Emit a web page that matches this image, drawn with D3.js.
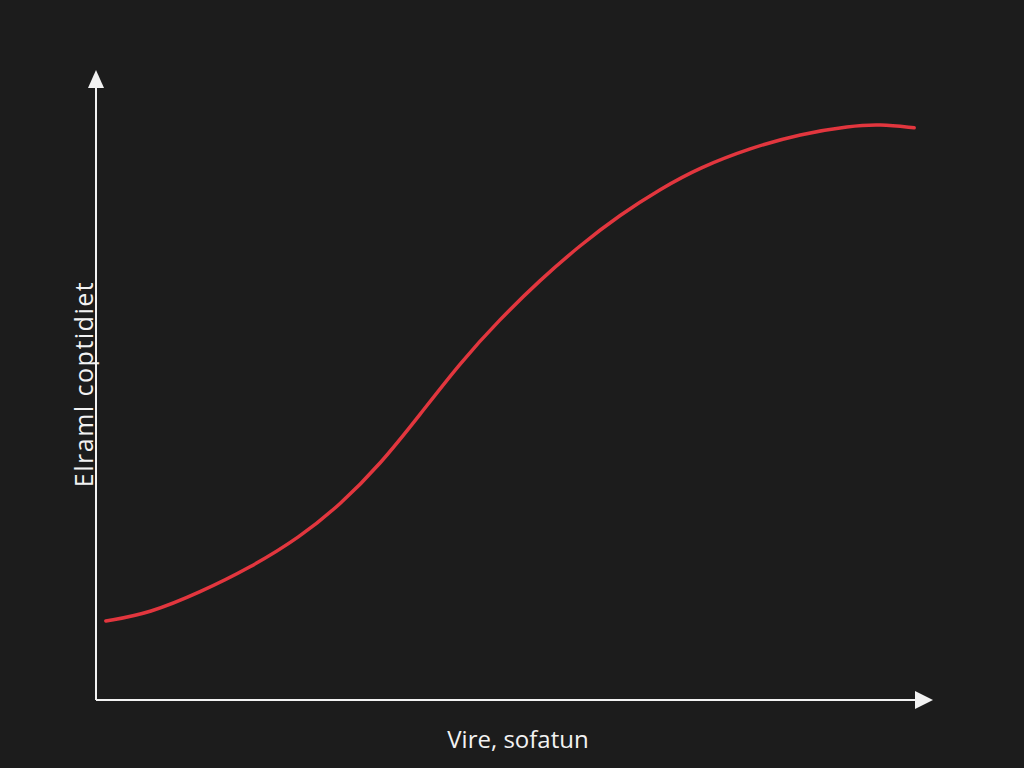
<!DOCTYPE html>
<html>
<head>
<meta charset="utf-8">
<script src="https://cdn.jsdelivr.net/npm/d3@7"></script>
<style>
    html, body { margin: 0; padding: 0; background: #1c1c1c; }
    svg { display: block; }
</style>
</head>
<body>
<svg id="chart" width="1024" height="768"></svg>
<script>
// values (arbitrary 0..10 units on both axes)
var xValues = [0.12, 0.66, 1.27, 1.88, 2.49, 2.98, 3.47, 3.96, 4.44, 4.93, 5.42, 5.91, 6.40, 6.89, 7.37, 7.99, 8.60, 9.21, 9.57, 9.99];
var yValues = [1.29, 1.42, 1.76, 2.16, 2.66, 3.19, 3.85, 4.67, 5.50, 6.22, 6.86, 7.43, 7.93, 8.35, 8.70, 9.02, 9.25, 9.38, 9.41, 9.35];
var xLabel = "Vire, sofatun";
var yLabel = "Elraml coptidiet";

var svg = d3.select("#chart");
var W = 1024, H = 768;
var margin = {left: 96, right: 915, top: 88, bottom: 700};

var x = d3.scaleLinear().domain([0, 10]).range([margin.left, margin.right]);
var y = d3.scaleLinear().domain([0, 10]).range([margin.bottom, margin.top]);

svg.append("rect").attr("width", W).attr("height", H).attr("fill", "#1c1c1c");

// axes with arrow heads
var axisColor = "#f2f2f2";
svg.append("line")
    .attr("x1", x(0)).attr("y1", y(0))
    .attr("x2", x(0)).attr("y2", y(10))
    .attr("stroke", axisColor).attr("stroke-width", 2);
svg.append("line")
    .attr("x1", x(0)).attr("y1", y(0))
    .attr("x2", x(10)).attr("y2", y(0))
    .attr("stroke", axisColor).attr("stroke-width", 2);

svg.append("path")
    .attr("d", "M" + (x(0) - 8) + "," + y(10) + "L" + x(0) + "," + (y(10) - 18) + "L" + (x(0) + 8) + "," + y(10) + "Z")
    .attr("fill", axisColor);
svg.append("path")
    .attr("d", "M" + x(10) + "," + (y(0) - 9) + "L" + (x(10) + 18) + "," + y(0) + "L" + x(10) + "," + (y(0) + 9) + "Z")
    .attr("fill", axisColor);

// the curve (basis smooths out small reading errors)
var points = xValues.map(function(v, i) { return [v, yValues[i]]; });
var line = d3.line()
    .x(function(d) { return x(d[0]); })
    .y(function(d) { return y(d[1]); })
    .curve(d3.curveBasis);

svg.append("path")
    .datum(points)
    .attr("d", line)
    .attr("fill", "none")
    .attr("stroke", "#e2363e")
    .attr("stroke-width", 3.5)
    .attr("stroke-linecap", "round");

// labels
svg.append("text")
    .attr("x", 518).attr("y", 748)
    .attr("text-anchor", "middle")
    .attr("fill", "#f2f2f2")
    .style("font-family", "'Open Sans', 'DejaVu Sans', sans-serif")
    .style("font-size", "24px")
    .text(xLabel);

svg.append("text")
    .attr("transform", "translate(93,384) rotate(-90)")
    .attr("text-anchor", "middle")
    .attr("fill", "#f2f2f2")
    .style("font-family", "'Open Sans', 'DejaVu Sans', sans-serif")
    .style("font-size", "25px")
    .style("letter-spacing", "1.5px")
    .text(yLabel);
</script>
</body>
</html>
